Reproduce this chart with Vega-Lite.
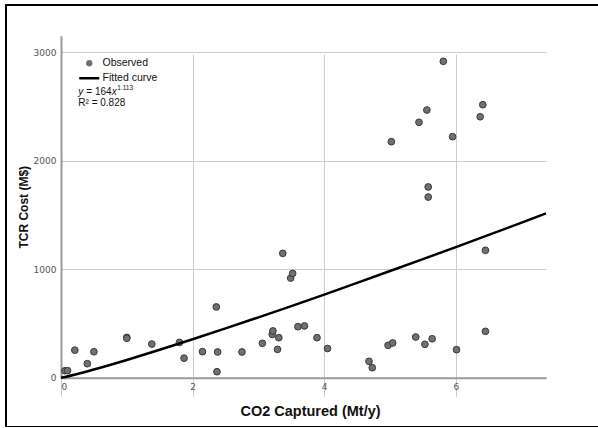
{
  "$schema": "https://vega.github.io/schema/vega-lite/v6.json",
  "width": 600,
  "height": 422,
  "autosize": {"type": "none"},
  "padding": {"left": 6, "top": 5, "right": 0, "bottom": 0},
  "background": "white",
  "config": {
    "view": {"stroke": "#000000", "strokeWidth": 2},
    "font": "Liberation Sans"
  },
  "data": {
    "values": [
      {"co2": 0.06, "cost": 65}, {"co2": 0.10, "cost": 66}, {"co2": 0.21, "cost": 255},
      {"co2": 0.40, "cost": 130}, {"co2": 0.50, "cost": 240}, {"co2": 1.00, "cost": 372},
      {"co2": 1.00, "cost": 364}, {"co2": 1.38, "cost": 311}, {"co2": 1.80, "cost": 326},
      {"co2": 1.87, "cost": 181}, {"co2": 2.15, "cost": 241}, {"co2": 2.38, "cost": 238},
      {"co2": 2.36, "cost": 653}, {"co2": 2.37, "cost": 56}, {"co2": 2.75, "cost": 238},
      {"co2": 3.06, "cost": 318}, {"co2": 3.21, "cost": 400}, {"co2": 3.22, "cost": 432},
      {"co2": 3.31, "cost": 370}, {"co2": 3.29, "cost": 262}, {"co2": 3.37, "cost": 1147},
      {"co2": 3.49, "cost": 919}, {"co2": 3.52, "cost": 962}, {"co2": 3.60, "cost": 471},
      {"co2": 3.70, "cost": 478}, {"co2": 3.89, "cost": 370}, {"co2": 4.05, "cost": 270},
      {"co2": 4.68, "cost": 152}, {"co2": 4.73, "cost": 93}, {"co2": 4.97, "cost": 299},
      {"co2": 5.04, "cost": 321}, {"co2": 5.39, "cost": 376}, {"co2": 5.53, "cost": 309},
      {"co2": 5.64, "cost": 360}, {"co2": 6.01, "cost": 259}, {"co2": 6.45, "cost": 1175},
      {"co2": 6.45, "cost": 428}, {"co2": 5.02, "cost": 2176}, {"co2": 5.44, "cost": 2355},
      {"co2": 5.56, "cost": 2468}, {"co2": 5.58, "cost": 1759}, {"co2": 5.58, "cost": 1666},
      {"co2": 5.81, "cost": 2917}, {"co2": 5.95, "cost": 2222}, {"co2": 6.37, "cost": 2406},
      {"co2": 6.41, "cost": 2517}
    ]
  },
  "layer": [
    {
      "mark": {"type": "point", "filled": true, "stroke": "#3a3a3a", "strokeWidth": 1, "size": 45, "opacity": 1},
      "encoding": {
        "x": {
          "field": "co2", "type": "quantitative",
          "scale": {"domain": [0, 7.37], "range": [55, 540], "nice": false, "zero": false},
          "axis": {
            "title": "CO2 Captured (Mt/y)", "orient": "bottom", "offset": -49.2,
            "values": [0, 2, 4, 6], "format": "d", "grid": true, "gridColor": "#cccccc", "gridWidth": 1,
            "domainColor": "#9a9a9a", "domainWidth": 2, "ticks": false,
            "labelFont": "DejaVu Sans", "labelFontSize": 9, "labelColor": "#555555", "labelPadding": 5,
            "titleFont": "Liberation Sans", "titleFontSize": 14.5, "titleFontWeight": "bold", "titleColor": "#111111",
            "titlePadding": 13, "titleX": 304
          }
        },
        "y": {
          "field": "cost", "type": "quantitative",
          "scale": {"domain": [0, 3153], "range": [372.8, 30.7], "nice": false, "zero": false},
          "axis": {
            "title": "TCR Cost (M$)", "orient": "left", "offset": -55,
            "values": [0, 1000, 2000, 3000], "format": "d", "grid": true, "gridColor": "#cccccc", "gridWidth": 1,
            "domainColor": "#9a9a9a", "domainWidth": 2, "ticks": false,
            "labelFont": "DejaVu Sans", "labelFontSize": 9, "labelColor": "#555555", "labelPadding": 5,
            "titleFont": "Liberation Sans", "titleFontSize": 12, "titleFontWeight": "bold", "titleColor": "#111111",
            "titlePadding": 3
          }
        },
        "color": {
          "datum": "Observed",
          "scale": {"domain": ["Observed", "Fitted curve"], "range": ["#707070", "#000000"]},
          "legend": {
            "title": null, "orient": "none", "legendX": 78, "legendY": 53, "padding": 0,
            "symbolSize": 100, "labelOffset": 8, "rowPadding": 4,
            "labelFont": "Liberation Sans", "labelFontSize": 10.5, "labelColor": "#111111",
            "encode": {
              "symbols": {
                "update": {
                  "shape": {"signal": "datum.value === 'Observed' ? 'circle' : 'stroke'"},
                  "size": {"signal": "datum.value === 'Observed' ? 40 : 400"},
                  "fill": {"signal": "datum.value === 'Observed' ? '#707070' : 'transparent'"},
                  "stroke": {"signal": "datum.value === 'Observed' ? 'transparent' : '#000000'"},
                  "strokeWidth": {"signal": "datum.value === 'Observed' ? 0 : 2.5"},
                  "opacity": {"value": 1}
                }
              }
            }
          }
        }
      }
    },
    {
      "data": {
        "values": [
          {"co2": 0, "cost": 0}, {"co2": 0.25, "cost": 35}, {"co2": 0.5, "cost": 76},
          {"co2": 1, "cost": 164}, {"co2": 1.5, "cost": 258}, {"co2": 2, "cost": 355},
          {"co2": 2.5, "cost": 455}, {"co2": 3, "cost": 557}, {"co2": 3.5, "cost": 661},
          {"co2": 4, "cost": 767}, {"co2": 4.5, "cost": 875}, {"co2": 5, "cost": 984},
          {"co2": 5.5, "cost": 1094}, {"co2": 6, "cost": 1205}, {"co2": 6.5, "cost": 1317},
          {"co2": 7, "cost": 1430}, {"co2": 7.37, "cost": 1515}
        ]
      },
      "mark": {"type": "line", "strokeWidth": 2.5, "interpolate": "monotone"},
      "encoding": {
        "x": {"field": "co2", "type": "quantitative"},
        "y": {"field": "cost", "type": "quantitative"},
        "color": {
          "datum": "Fitted curve",
          "legend": {
            "title": null, "orient": "none", "legendX": 78, "legendY": 53, "padding": 0,
            "symbolSize": 100, "labelOffset": 8, "rowPadding": 4,
            "labelFont": "Liberation Sans", "labelFontSize": 10.5, "labelColor": "#111111",
            "encode": {
              "symbols": {
                "update": {
                  "shape": {"signal": "datum.value === 'Observed' ? 'circle' : 'stroke'"},
                  "size": {"signal": "datum.value === 'Observed' ? 40 : 400"},
                  "fill": {"signal": "datum.value === 'Observed' ? '#707070' : 'transparent'"},
                  "stroke": {"signal": "datum.value === 'Observed' ? 'transparent' : '#000000'"},
                  "strokeWidth": {"signal": "datum.value === 'Observed' ? 0 : 2.5"},
                  "opacity": {"value": 1}
                }
              }
            }
          }
        }
      }
    },
    {
      "data": {"values": [{"label": "y"}]},
      "mark": {"type": "text", "align": "left", "baseline": "alphabetic", "font": "Liberation Sans", "fontSize": 10, "fontStyle": "italic", "color": "#111111"},
      "encoding": {
        "x": {"datum": 0.263, "type": "quantitative"},
        "y": {"datum": 2606, "type": "quantitative"},
        "text": {"field": "label"}
      }
    },
    {
      "data": {"values": [{"label": "= 164"}]},
      "mark": {"type": "text", "align": "left", "baseline": "alphabetic", "font": "Liberation Sans", "fontSize": 10, "dx": 8, "color": "#111111"},
      "encoding": {
        "x": {"datum": 0.263, "type": "quantitative"},
        "y": {"datum": 2606, "type": "quantitative"},
        "text": {"field": "label"}
      }
    },
    {
      "data": {"values": [{"label": "x"}]},
      "mark": {"type": "text", "align": "left", "baseline": "alphabetic", "font": "Liberation Sans", "fontSize": 10, "fontStyle": "italic", "dx": 33.5, "color": "#111111"},
      "encoding": {
        "x": {"datum": 0.263, "type": "quantitative"},
        "y": {"datum": 2606, "type": "quantitative"},
        "text": {"field": "label"}
      }
    },
    {
      "data": {"values": [{"label": "1.113"}]},
      "mark": {"type": "text", "align": "left", "baseline": "alphabetic", "font": "Liberation Sans", "fontSize": 6.5, "dx": 39, "dy": -5, "color": "#111111"},
      "encoding": {
        "x": {"datum": 0.263, "type": "quantitative"},
        "y": {"datum": 2606, "type": "quantitative"},
        "text": {"field": "label"}
      }
    },
    {
      "data": {"values": [{"label": "R² = 0.828"}]},
      "mark": {"type": "text", "align": "left", "baseline": "alphabetic", "font": "Liberation Sans", "fontSize": 10, "color": "#111111"},
      "encoding": {
        "x": {"datum": 0.263, "type": "quantitative"},
        "y": {"datum": 2505, "type": "quantitative"},
        "text": {"field": "label"}
      }
    }
  ]
}
